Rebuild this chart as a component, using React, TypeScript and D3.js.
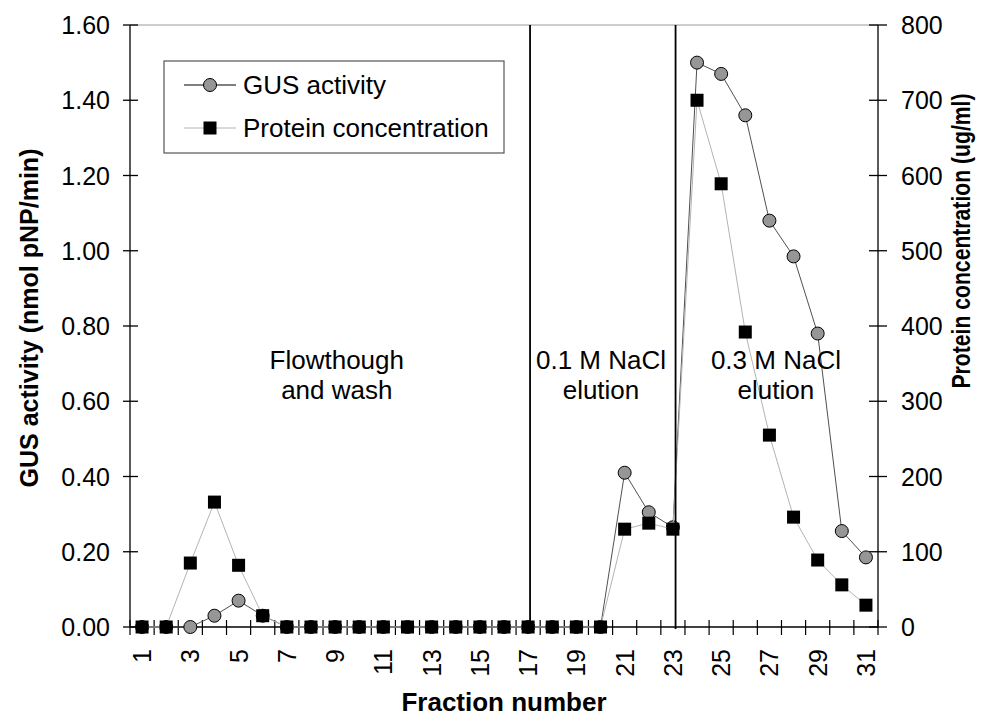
import React from "react";
import * as d3 from "d3";

const fractions = d3.range(1, 32);
const gusActivity = [0, 0, 0, 0.03, 0.07, 0.03, 0, 0, 0, 0, 0, 0, 0, 0, 0, 0, 0, 0, 0, 0, 0.41, 0.305, 0.265, 1.5, 1.47, 1.36, 1.08, 0.985, 0.78, 0.255, 0.185];
const proteinConc = [0, 0, 85, 166, 82, 15, 0, 0, 0, 0, 0, 0, 0, 0, 0, 0, 0, 0, 0, 0, 130, 138, 130, 700, 589, 392, 255, 146, 89, 56, 29];
const leftTicks = [0, 0.2, 0.4, 0.6, 0.8, 1.0, 1.2, 1.4, 1.6];
const rightTicks = [0, 100, 200, 300, 400, 500, 600, 700, 800];
const xLabels = fractions.filter((f) => f % 2 === 1);
const dividers = [17.08, 23.11];
const regionLabels = [
  { f: 9.07, lines: ["Flowthough", "and wash"] },
  { f: 20.02, lines: ["0.1 M NaCl", "elution"] },
  { f: 27.27, lines: ["0.3 M NaCl", "elution"] },
];
const legendItems = ["GUS activity", "Protein concentration"];

const FONT = "'Liberation Sans', Arial, sans-serif";

export default function App() {
  const L = 130, R = 878, T = 25, B = 627;
  const x = d3.scaleLinear().domain([0.5, 31.5]).range([L, R]);
  const yL = d3.scaleLinear().domain([0, 1.6]).range([B, T]);
  const yR = d3.scaleLinear().domain([0, 800]).range([B, T]);

  const gusLine = d3.line<number>().x((_, i) => x(fractions[i])).y((d) => yL(d))(gusActivity) || "";
  const protLine = d3.line<number>().x((_, i) => x(fractions[i])).y((d) => yR(d))(proteinConc) || "";

  const boundaries = d3.range(0, 32).map((i) => i + 0.5);
  const sq = 13;

  return (
    <svg width={984} height={717} style={{ position: "absolute", left: 0, top: 0, background: "#fff" }} fontFamily={FONT}>
      <rect x={0} y={0} width={984} height={717} fill="#fff" />
      {/* top border */}
      <line x1={L} x2={R} y1={T} y2={T} stroke="#9a9a9a" strokeWidth={1} />
      {/* axes */}
      <line x1={L} x2={L} y1={T} y2={B} stroke="#000" strokeWidth={1.3} />
      <line x1={R} x2={R} y1={T} y2={B} stroke="#000" strokeWidth={1.3} />
      <line x1={L} x2={R} y1={B} y2={B} stroke="#000" strokeWidth={1.3} />
      {leftTicks.map((t) => (
        <g key={"l" + t}>
          <line x1={L - 7} x2={L + 8} y1={yL(t)} y2={yL(t)} stroke="#000" strokeWidth={1.3} />
          <text x={110} y={yL(t)} dy="0.36em" textAnchor="end" fontSize={25} fill="#000">{t.toFixed(2)}</text>
        </g>
      ))}
      {rightTicks.map((t) => (
        <g key={"r" + t}>
          <line x1={R - 9} x2={R + 9} y1={yR(t)} y2={yR(t)} stroke="#000" strokeWidth={1.3} />
          <text x={901} y={yR(t)} dy="0.36em" textAnchor="start" fontSize={25} fill="#000">{t}</text>
        </g>
      ))}
      {boundaries.map((b) => (
        <line key={"x" + b} x1={x(b)} x2={x(b)} y1={B - 7} y2={B + 8} stroke="#000" strokeWidth={1.2} />
      ))}
      {xLabels.map((f) => (
        <text key={"xl" + f} transform={`translate(${x(f)},649) rotate(-90)`} dy="0.36em" textAnchor="end" fontSize={25} fill="#000">{f}</text>
      ))}
      {/* axis titles */}
      <text transform={`translate(38,318) rotate(-90)`} textAnchor="middle" fontSize={25} fontWeight="bold" fill="#000">GUS activity (nmol pNP/min)</text>
      <text transform={`translate(970,241) rotate(-90)`} textAnchor="middle" fontSize={25} fontWeight="bold" fill="#000" textLength={295} lengthAdjust="spacingAndGlyphs">Protein concentration (ug/ml)</text>
      <text x={504} y={711} textAnchor="middle" fontSize={26} fontWeight="bold" fill="#000">Fraction number</text>

      {/* series */}
      <path d={gusLine} fill="none" stroke="#505050" strokeWidth={1} />
      {gusActivity.map((v, i) => (
        <circle key={"c" + i} cx={x(fractions[i])} cy={yL(v)} r={6.5} fill="#969696" stroke="#000" strokeWidth={1} />
      ))}
      <path d={protLine} fill="none" stroke="#b4b4b4" strokeWidth={1} />
      {proteinConc.map((v, i) => (
        <rect key={"s" + i} x={x(fractions[i]) - sq / 2} y={yR(v) - sq / 2} width={sq} height={sq} fill="#000" />
      ))}

      {/* dividers */}
      {dividers.map((d) => (
        <line key={"d" + d} x1={x(d)} x2={x(d)} y1={T} y2={B + 2} stroke="#000" strokeWidth={1.8} />
      ))}

      {/* region labels */}
      {regionLabels.map((r) => (
        <text key={r.lines[0]} x={x(r.f)} y={369} textAnchor="middle" fontSize={26} fill="#000">
          <tspan x={x(r.f)} y={369}>{r.lines[0]}</tspan>
          <tspan x={x(r.f)} y={399}>{r.lines[1]}</tspan>
        </text>
      ))}

      {/* legend */}
      <rect x={164} y={61} width={340} height={92} fill="#fff" stroke="#555" strokeWidth={1.2} />
      <line x1={184} x2={236} y1={85} y2={85} stroke="#000" strokeWidth={1} />
      <circle cx={210} cy={85} r={6.5} fill="#969696" stroke="#000" strokeWidth={1} />
      <text x={243} y={85} dy="0.36em" fontSize={26} fill="#000">{legendItems[0]}</text>
      <line x1={184} x2={236} y1={128} y2={128} stroke="#b4b4b4" strokeWidth={1} />
      <rect x={210 - sq / 2} y={128 - sq / 2} width={sq} height={sq} fill="#000" />
      <text x={243} y={128} dy="0.36em" fontSize={26} fill="#000">{legendItems[1]}</text>
    </svg>
  );
}
